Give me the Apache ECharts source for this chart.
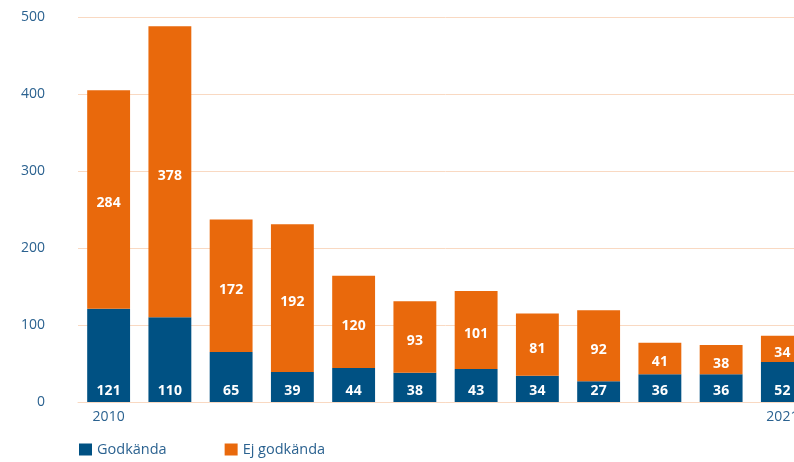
<!DOCTYPE html>
<html>
<head>
<meta charset="utf-8">
<script src="https://cdn.jsdelivr.net/npm/echarts@6/dist/echarts.min.js"></script>
<style>
  html, body { margin: 0; padding: 0; overflow: hidden; background: #fff; }
  #chart { width: 820px; height: 462px; }
</style>
</head>
<body>
<div id="chart"></div>
<script>
// data
const years = ['2010', '2011', '2012', '2013', '2014', '2015', '2016', '2017', '2018', '2019', '2020', '2021']
const godkanda = [121, 110, 65, 39, 44, 38, 43, 34, 27, 36, 36, 52]
const ejGodkanda = [284, 378, 172, 192, 120, 93, 101, 81, 92, 41, 38, 34]
const yTicks = [0, 100, 200, 300, 400, 500]

const textBlue = '#2b6290'
const barBlue = '#005183'
const barOrange = '#e9690c'

const chart = echarts.init(document.getElementById('chart'))

const labelStyle = {
  show: true,
  color: '#ffffff',
  fontFamily: 'Open Sans',
  fontWeight: 'bold',
  fontSize: 14
}

chart.setOption({
  animation: false,
  textStyle: { fontFamily: 'Open Sans' },
  grid: {
    left: 78,
    right: 7,
    top: 17,
    bottom: 60
  },
  legend: {
    left: 79,
    bottom: 5,
    padding: 0,
    itemWidth: 13,
    itemHeight: 12,
    itemGap: 58,
    icon: 'rect',
    textStyle: { color: textBlue, fontSize: 14.5, fontFamily: 'Open Sans' },
    data: ['Godkända', 'Ej godkända']
  },
  xAxis: {
    type: 'category',
    data: years,
    axisLine: { show: true, lineStyle: { color: '#f9d9c2', width: 1 } },
    axisTick: { show: false },
    axisLabel: {
      color: textBlue,
      fontSize: 14,
      margin: 8,
      interval: function (i) {
        return i === 0 || i === years.length - 1
      }
    }
  },
  yAxis: {
    type: 'value',
    min: yTicks[0],
    max: yTicks[yTicks.length - 1],
    interval: 100,
    axisLine: { show: false },
    axisTick: { show: false },
    axisLabel: {
      color: textBlue,
      fontSize: 14,
      margin: 33
    },
    splitLine: {
      lineStyle: { color: '#f9d9c2', width: 1 }
    }
  },
  series: [
    {
      name: 'Godkända',
      type: 'bar',
      stack: 'total',
      barWidth: '70%',
      data: godkanda,
      itemStyle: { color: barBlue },
      label: { ...labelStyle, position: 'insideBottom', distance: 4 }
    },
    {
      name: 'Ej godkända',
      type: 'bar',
      stack: 'total',
      barWidth: '70%',
      data: ejGodkanda,
      itemStyle: { color: barOrange },
      label: { ...labelStyle, position: 'inside', offset: [0, 4] }
    }
  ]
})
</script>
</body>
</html>
